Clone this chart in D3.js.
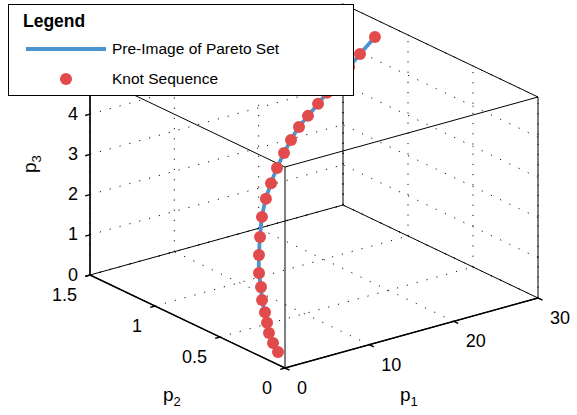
<!DOCTYPE html>
<html><head><meta charset="utf-8">
<script src="https://cdn.jsdelivr.net/npm/d3@7"></script>
<style>body{margin:0;background:#fff}svg{display:block}text{font-family:"Liberation Sans",Arial,sans-serif;fill:#000}</style>
</head><body>
<svg id="chart" width="577" height="415"></svg>
<script>
// ---- data ----
const p1 = [1.99,1.71,1.66,1.77,2.02,2.38,3.03,3.76,5.27,6.86,8.83,10.64,12.22,13.71,15.27,16.53,17.86,18.94,20.26,21.35,22.90,24.45,25.99,28.47];
const p2 = [0.183,0.203,0.231,0.253,0.285,0.331,0.381,0.444,0.542,0.637,0.750,0.837,0.900,0.951,0.998,1.026,1.051,1.052,1.060,1.062,1.077,1.093,1.109,1.155];
const p3 = [0,0.21,0.42,0.63,0.83,1.04,1.25,1.46,1.67,1.88,2.09,2.30,2.50,2.71,2.92,3.13,3.34,3.55,3.76,3.97,4.17,4.38,4.59,4.80];
const p1Ticks = [0,10,20,30];
const p2Ticks = [0,0.5,1,1.5];
const p3Ticks = [0,1,2,3,4,5];
const p1Domain = [0,30], p2Domain = [0,1.5], p3Domain = [0,5];
const seriesNames = ["Pre-Image of Pareto Set","Knot Sequence"];
const legendTitle = "Legend";

// ---- projection built from d3 scales ----
const origin = [285,368];
const xFromP1 = d3.scaleLinear().domain(p1Domain).range([0,253]);
const yFromP1 = d3.scaleLinear().domain(p1Domain).range([0,-70]);
const xFromP2 = d3.scaleLinear().domain(p2Domain).range([0,-195]);
const yFromP2 = d3.scaleLinear().domain(p2Domain).range([0,-93]);
const yFromP3 = d3.scaleLinear().domain(p3Domain).range([0,-201]);
function proj(a,b,c){
  return [origin[0]+xFromP1(a)+xFromP2(b), origin[1]+yFromP1(a)+yFromP2(b)+yFromP3(c)];
}
const svg = d3.select("#chart");
const line2 = d3.line();
function seg(g, A, B){
  return g.append("path").attr("d", line2([proj(...A), proj(...B)]));
}

// ---- grid ----
const grid = svg.append("g").attr("fill","none").attr("stroke","#111").attr("stroke-width",1).attr("stroke-dasharray","1.2 9");
const P1max=p1Domain[1], P2max=p2Domain[1], P3max=p3Domain[1];
p1Ticks.forEach(t=>seg(grid,[t,P2max,0],[t,P2max,P3max]));
p3Ticks.forEach(t=>seg(grid,[0,P2max,t],[P1max,P2max,t]));
p2Ticks.forEach(t=>seg(grid,[P1max,t,0],[P1max,t,P3max]));
p3Ticks.forEach(t=>seg(grid,[P1max,0,t],[P1max,P2max,t]));
p1Ticks.forEach(t=>seg(grid,[t,0,0],[t,P2max,0]));
p2Ticks.forEach(t=>seg(grid,[0,t,0],[P1max,t,0]));

// ---- box ----
const box = svg.append("g").attr("fill","none").attr("stroke","#000").attr("stroke-width",1);
const corners = [[0,0],[P1max,0],[P1max,P2max],[0,P2max]];
for(let i=0;i<4;i++){
  const a=corners[i], b=corners[(i+1)%4];
  seg(box,[a[0],a[1],0],[b[0],b[1],0]);
  seg(box,[a[0],a[1],P3max],[b[0],b[1],P3max]);
  seg(box,[a[0],a[1],0],[a[0],a[1],P3max]);
}
// ---- axes ----
const ax = svg.append("g").attr("fill","none").attr("stroke","#000").attr("stroke-width",1.4);
seg(ax,[0,0,0],[P1max,0,0]);
seg(ax,[0,0,0],[0,P2max,0]);
seg(ax,[0,P2max,0],[0,P2max,P3max]);
const tickG = svg.append("g").attr("stroke","#000").attr("stroke-width",1.4);
const tl = 5;
function tick(pt, dir){
  const [x,y]=proj(...pt); const n=Math.hypot(dir[0],dir[1]);
  tickG.append("path").attr("d", line2([[x,y],[x+dir[0]/n*tl, y+dir[1]/n*tl]]));
}
const dP2 = [ -(xFromP2(1)-xFromP2(0)), -(yFromP2(1)-yFromP2(0)) ];
const dP1 = [ -(xFromP1(1)-xFromP1(0)), -(yFromP1(1)-yFromP1(0)) ];
p1Ticks.forEach(t=>tick([t,0,0], dP2));
p2Ticks.forEach(t=>tick([0,t,0], dP1));
p3Ticks.forEach(t=>tick([0,P2max,t], dP1));

// tick labels
const lab = svg.append("g").attr("font-size","18px");
p1Ticks.forEach(t=>{const [x,y]=proj(t,0,0); lab.append("text").attr("x",x+12).attr("y",y+26).text(t);});
p2Ticks.forEach(t=>{const [x,y]=proj(0,t,0); lab.append("text").attr("x",x-13).attr("y",y+25.5).attr("text-anchor","end").text(t);});
p3Ticks.forEach(t=>{const [x,y]=proj(0,P2max,t); lab.append("text").attr("x",x-12).attr("y",y+5.5).attr("text-anchor","end").text(t);});

// axis labels
function sublabel(g, sub){
  const t = g.append("text").attr("font-size","19px");
  t.append("tspan").text("p");
  t.append("tspan").attr("font-size","13px").attr("dy",5).text(sub);
  return t;
}
sublabel(svg.append("g").attr("transform","translate(400,401)"),"1");
sublabel(svg.append("g").attr("transform","translate(163,401)"),"2");
sublabel(svg.append("g").attr("transform","translate(36,173) rotate(-90)"),"3");

// ---- curve ----
const pts = p1.map((v,i)=>proj(v,p2[i],p3[i]));
svg.append("path").attr("d", d3.line().curve(d3.curveCatmullRom)(pts))
  .attr("fill","none").attr("stroke","#4A95D0").attr("stroke-width",3.8).attr("stroke-linejoin","round");
svg.append("g").selectAll("circle").data(pts).join("circle")
  .attr("cx",d=>d[0]).attr("cy",d=>d[1]).attr("r",6).attr("fill","#E24B4B");

// ---- legend ----
const lg = svg.append("g");
lg.append("rect").attr("x",8.5).attr("y",4.5).attr("width",345).attr("height",91).attr("fill","#fff").attr("stroke","#000").attr("stroke-width",1);
lg.append("text").attr("x",23).attr("y",27).attr("font-size","17.5px").attr("font-weight","bold").text(legendTitle);
lg.append("path").attr("d",line2([[26,49],[106,49]])).attr("stroke","#4A95D0").attr("stroke-width",3.8);
lg.append("circle").attr("cx",66).attr("cy",79).attr("r",6).attr("fill","#E24B4B");
lg.append("text").attr("x",112).attr("y",54).attr("font-size","15.5px").text(seriesNames[0]);
lg.append("text").attr("x",112).attr("y",84).attr("font-size","15.5px").text(seriesNames[1]);
</script>
</body></html>
